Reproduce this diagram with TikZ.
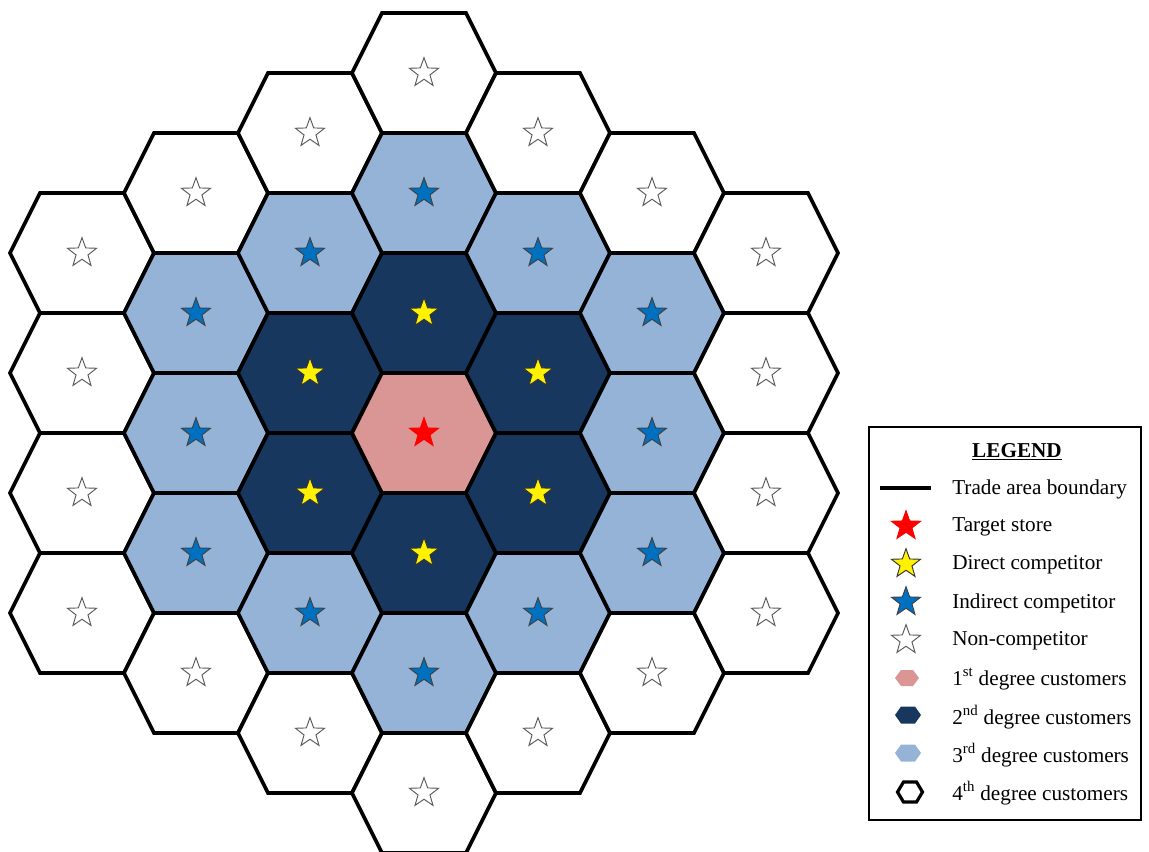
\documentclass[tikz,border=0pt]{standalone}
\usepackage{fontspec}
\setmainfont{Liberation Serif}
\usetikzlibrary{shapes.geometric}

\definecolor{firstdeg}{HTML}{D99694}
\definecolor{seconddeg}{HTML}{17375E}
\definecolor{thirddeg}{HTML}{95B3D7}
\definecolor{indirblue}{HTML}{0070C0}
\newcommand{\legendfont}{\fontsize{15.9}{19}\selectfont}

\tikzset{
  cell/.style={draw=black, line width=2.7pt, line join=miter},
  shop/.style={star, star points=5, star point ratio=2.45, inner sep=0pt,
    minimum size=23pt, line width=0.7pt},
  item/.style={anchor=west, inner sep=0pt}
}

\begin{document}
\begin{tikzpicture}[x=0.75pt, y=-0.75pt, every node/.style={font=\legendfont}]
  \useasboundingbox (0,0) rectangle (1149,852);

  % trade area: rings around the target store
  \foreach \q in {-3,...,3}
  \foreach \r in {-3,...,3} {
    \pgfmathtruncatemacro{\ring}{(abs(\q)+abs(\r)+abs(\q+\r))/2}
    \ifnum\ring<4
      \ifcase\ring
        \def\cellcol{firstdeg}\def\starcol{red}\def\starline{red}
      \or
        \def\cellcol{seconddeg}\def\starcol{yellow}\def\starline{black!80}
      \or
        \def\cellcol{thirddeg}\def\starcol{indirblue}\def\starline{black!75}
      \or
        \def\cellcol{white}\def\starcol{white}\def\starline{black!65}
      \fi
      \begin{scope}[shift={(424+114*\q, 433+120*\r+60*\q)}]
        \draw[cell, fill=\cellcol] (-72,0) -- (-42,-60) -- (42,-60)
          -- (72,0) -- (42,60) -- (-42,60) -- cycle;
        \node[shop, fill=\starcol, draw=\starline] (s\q\r) at (0,0) {};
      \end{scope}
    \fi
  }

  % legend
  \draw[line width=1.5pt] (869,427) rectangle (1141,820);
  \node[font=\legendfont\bfseries] (legtitle) at (1017,452) {\underline{LEGEND}};

  \foreach \y/\txt [count=\i] in {
    489/Trade area boundary, 527/Target store, 565/Direct competitor,
    603/Indirect competitor, 641/Non-competitor,
    679/1\textsuperscript{st} degree customers,
    717/2\textsuperscript{nd} degree customers,
    755/3\textsuperscript{rd} degree customers,
    793/4\textsuperscript{th} degree customers
  }
  \node[item] (lab\i) at (952,\y) {\txt};

  \draw[line width=2.4pt] (880,488) -- (931,488);
  \node[shop, fill=red, draw=red] (keytarget) at (906,526) {};
  \node[shop, fill=yellow, draw=black!80] (keydirect) at (906,564) {};
  \node[shop, fill=indirblue, draw=black!75] (keyindirect) at (906,602) {};
  \node[shop, fill=white, draw=black!65] (keynon) at (906,640) {};

  \fill[firstdeg, shift={(907,678)}] (-12,0) -- (-6,-8) -- (6,-8) -- (12,0)
    -- (6,8) -- (-6,8) -- cycle;
  \fill[seconddeg, shift={(908,715)}] (-13,0) -- (-7,-8.5) -- (7,-8.5) -- (13,0)
    -- (7,8.5) -- (-7,8.5) -- cycle;
  \fill[thirddeg, shift={(908,753)}] (-13,0) -- (-7,-8.5) -- (7,-8.5) -- (13,0)
    -- (7,8.5) -- (-7,8.5) -- cycle;
  \draw[cell, fill=white, line width=2.4pt, shift={(910,792)}] (-12.5,0) -- (-6.5,-10)
    -- (6.5,-10) -- (12.5,0) -- (6.5,10) -- (-6.5,10) -- cycle;
\end{tikzpicture}
\end{document}
